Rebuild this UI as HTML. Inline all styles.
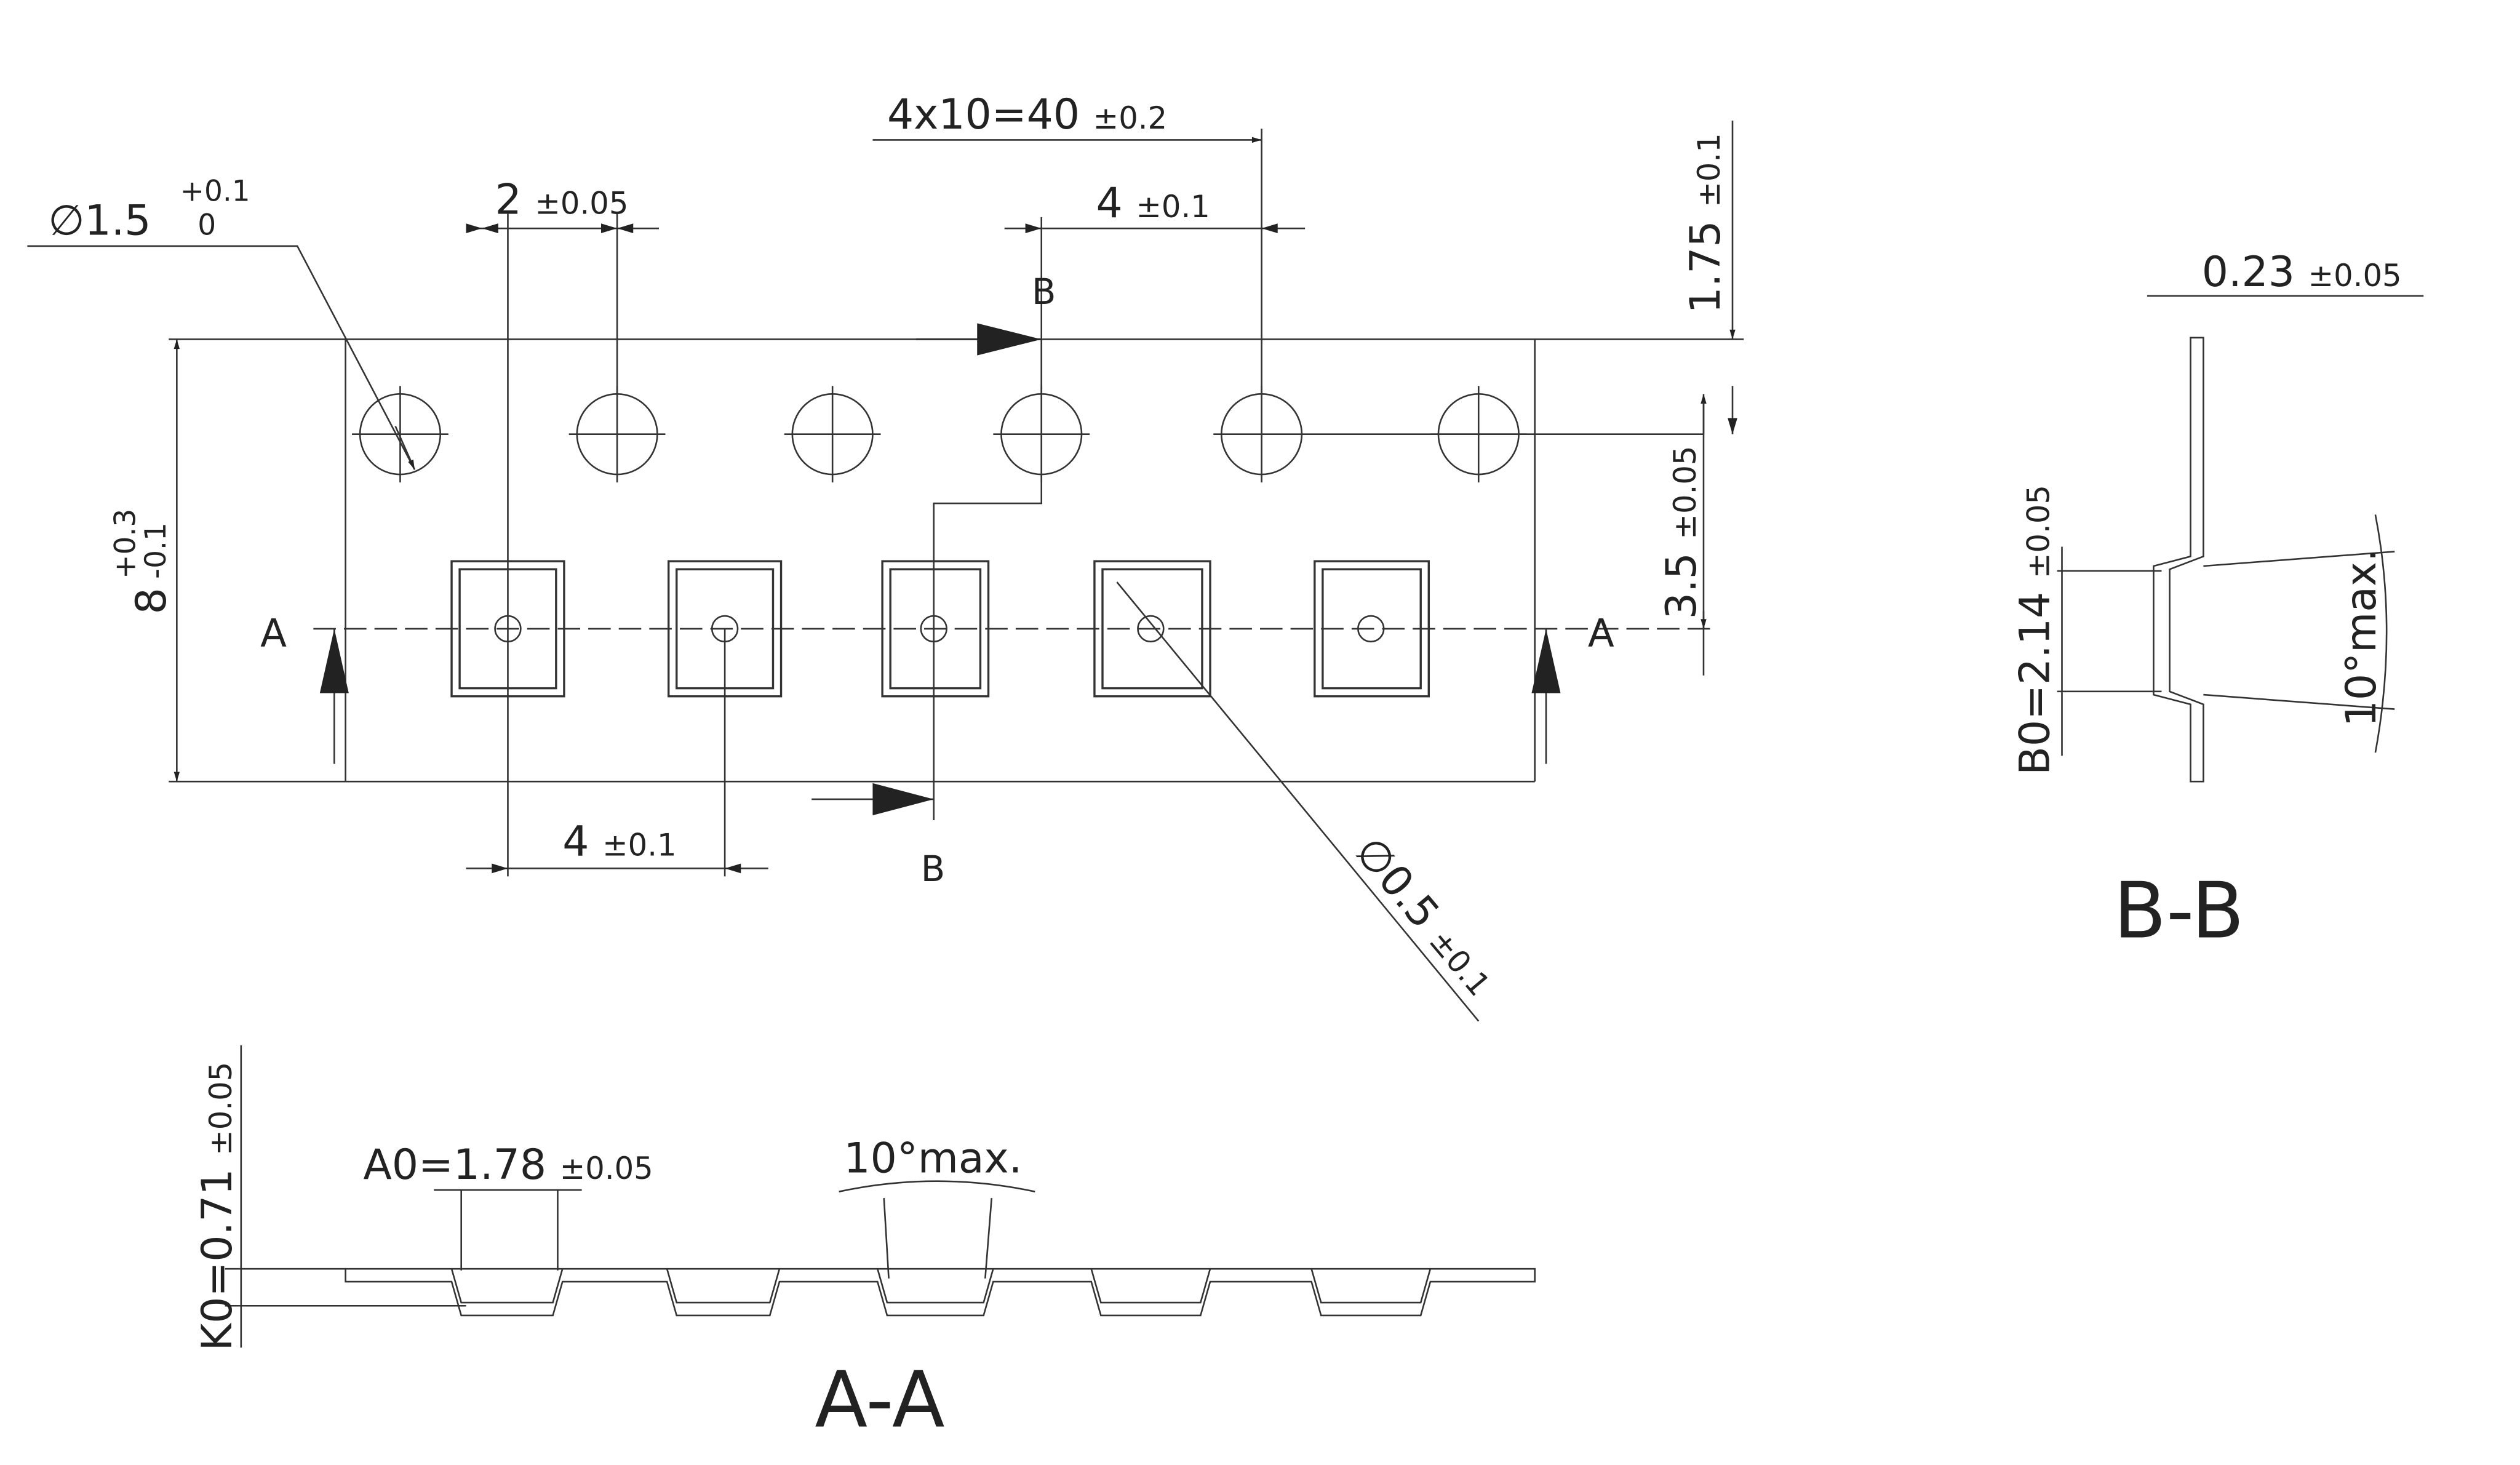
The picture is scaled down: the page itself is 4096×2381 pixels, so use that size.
<!DOCTYPE html>
<html><head><meta charset="utf-8"><style>html,body{margin:0;padding:0;background:#fff}svg{display:block}</style></head>
<body>
<svg width="4096" height="2381" viewBox="0 0 1568 911" preserveAspectRatio="none" xmlns="http://www.w3.org/2000/svg" font-family="'DejaVu Sans','Liberation Sans',sans-serif" fill="#222">
<defs>
<marker id="ar" viewBox="0 0 10 10" refX="10" refY="5" markerWidth="8" markerHeight="6" orient="auto-start-reverse" markerUnits="userSpaceOnUse"><path d="M0,2 L10,5 L0,8 z" fill="#222"/></marker>
</defs>
<g stroke="#333" stroke-width="1" fill="none">
<!-- strip -->
<line x1="105" y1="211" x2="1085" y2="211"/>
<line x1="105" y1="486" x2="955" y2="486"/>
<line x1="215" y1="211" x2="215" y2="486"/>
<line x1="955" y1="211" x2="955" y2="486"/>
<!-- sprocket holes -->
<g>
<circle cx="249" cy="270" r="25"/><circle cx="384" cy="270" r="25"/><circle cx="518" cy="270" r="25"/><circle cx="648" cy="270" r="25"/><circle cx="785" cy="270" r="25"/><circle cx="920" cy="270" r="25"/>
<path d="M219 270h60M249 240v60M354 270h60M384 240v60M488 270h60M518 240v60M618 270h60M648 240v60M755 270h60M785 240v60M890 270h60M920 240v60"/>
<line x1="815" y1="270" x2="1060" y2="270"/>
</g>
<!-- pockets -->
<g stroke-width="1.3">
<rect x="281" y="349" width="70" height="84"/><rect x="286" y="354" width="60" height="74"/>
<rect x="416" y="349" width="70" height="84"/><rect x="421" y="354" width="60" height="74"/>
<rect x="549" y="349" width="66" height="84"/><rect x="554" y="354" width="56" height="74"/>
<rect x="681" y="349" width="72" height="84"/><rect x="686" y="354" width="62" height="74"/>
<rect x="818" y="349" width="71" height="84"/><rect x="823" y="354" width="61" height="74"/>
</g>
<circle cx="316" cy="391" r="8"/><circle cx="451" cy="391" r="8"/><circle cx="581" cy="391" r="8"/><circle cx="716" cy="391" r="8"/><circle cx="853" cy="391" r="8"/>
<line x1="195" y1="391" x2="1065" y2="391" stroke-dasharray="14,5"/>
<!-- vertical extension lines -->
<line x1="316" y1="133" x2="316" y2="545"/>
<line x1="384" y1="133" x2="384" y2="245"/>
<line x1="451" y1="391" x2="451" y2="545"/>
<line x1="785" y1="80" x2="785" y2="245"/>
<line x1="648" y1="135" x2="648" y2="245"/>
<!-- B section line -->
<path d="M648 211 V313 H581 V510"/>
<line x1="570" y1="211" x2="648" y2="211" stroke-width="1.2"/>
<line x1="505" y1="497" x2="581" y2="497"/>
<!-- A arrows lines -->
<line x1="208" y1="391" x2="208" y2="475"/>
<line x1="962" y1="391" x2="962" y2="475"/>
<!-- dims -->
<line x1="290" y1="142" x2="410" y2="142"/>
<line x1="290" y1="540" x2="478" y2="540"/>
<line x1="625" y1="142" x2="812" y2="142"/>
<line x1="543" y1="87" x2="785" y2="87" marker-end="url(#ar)"/>
<line x1="110" y1="211" x2="110" y2="486" marker-start="url(#ar)" marker-end="url(#ar)"/>
<line x1="1078" y1="75" x2="1078" y2="211" marker-end="url(#ar)"/>
<line x1="1078" y1="270" x2="1078" y2="240"/>
<line x1="1060" y1="270" x2="1060" y2="245" marker-end="url(#ar)" transform="translate(0,0)"/>
<line x1="1060" y1="250" x2="1060" y2="420"/>
<line x1="1060" y1="380" x2="1060" y2="391" marker-end="url(#ar)"/>
<path d="M17 153 H185 L258 292" />
<line x1="246" y1="265" x2="258" y2="292" marker-end="url(#ar)"/>
<line x1="695" y1="362" x2="920" y2="635"/>
</g>
<g fill="#222">
<path d="M316 142l-10-3v6zM316 142l10-3v6z" transform="translate(-16,0)"/>
<path d="M300 142l10-3v6z"/>
<path d="M384 142l10-3v6zM384 142l-10-3v6z"/>
<path d="M316 540l-10-3v6zM451 540l10-3v6z"/>
<path d="M648 142l-10-3v6zM785 142l10-3v6z"/>
<path d="M648 211 l-40 -10 v20z"/>
<path d="M581 497 l-38 -10 v20z"/>
<path d="M208 391 l-9 40 h18z"/>
<path d="M962 391 l-9 40 h18z"/>
<path d="M1078 270 l-3 -10 h6z"/>
</g>
<g font-size="26">
<text x="30" y="146">∅1.5</text><text x="112" y="125" font-size="18">+0.1</text><text x="123" y="146" font-size="18">0</text>
<text x="308" y="133">2 <tspan font-size="19">±0.05</tspan></text>
<text x="552" y="80">4x10=40 <tspan font-size="19">±0.2</tspan></text>
<text x="682" y="135">4 <tspan font-size="19">±0.1</tspan></text>
<text x="350" y="532">4 <tspan font-size="19">±0.1</tspan></text>
<text x="642" y="189" font-size="22">B</text>
<text x="573" y="548" font-size="22">B</text>
<text x="162" y="402" font-size="24">A</text>
<text x="988" y="402" font-size="24">A</text>
<text transform="translate(1070,195) rotate(-90)">1.75 <tspan font-size="19">±0.1</tspan></text>
<text transform="translate(1055,385) rotate(-90)">3.5 <tspan font-size="19">±0.05</tspan></text>
<text transform="translate(103,382) rotate(-90)">8</text>
<text transform="translate(84,360) rotate(-90)" font-size="18">+0.3</text>
<text transform="translate(103,360) rotate(-90)" font-size="18">-0.1</text>
<text transform="translate(842,530) rotate(50)">∅0.5 <tspan font-size="19">±0.1</tspan></text>
</g>
<!-- A-A -->
<g stroke="#333" stroke-width="1" fill="none">
<path d="M215 789 H955 V797 H890 L884 818 H822 L816 797 H753 L747 818 H685 L679 797 H618 L612 818 H552 L546 797 H485 L479 818 H421 L415 797 H350 L344 818 H287 L281 797 H215 Z"/>
<path d="M281 789 L287 810 H344 L350 789 M415 789 L421 810 H479 L485 789 M546 789 L552 810 H612 L618 789 M679 789 L685 810 H747 L753 789 M816 789 L822 810 H884 L890 789"/>
<line x1="287" y1="740" x2="287" y2="790"/><line x1="347" y1="740" x2="347" y2="790"/>
<line x1="270" y1="740" x2="362" y2="740"/>
<line x1="550" y1="745" x2="553" y2="795"/><line x1="617" y1="745" x2="613" y2="795"/>
<path d="M522 741 Q583 728 644 741"/>
<line x1="150" y1="650" x2="150" y2="838"/>
<line x1="140" y1="789" x2="215" y2="789"/><line x1="140" y1="812" x2="290" y2="812"/>
</g>
<g font-size="26">
<text x="226" y="733">A0=1.78 <tspan font-size="19">±0.05</tspan></text>
<text x="525" y="729">10°max.</text>
<text transform="translate(144,840) rotate(-90)">K0=0.71 <tspan font-size="19">±0.05</tspan></text>
<text x="507" y="887" font-size="48">A-A</text>
</g>
<!-- B-B -->
<g stroke="#333" stroke-width="1" fill="none">
<path d="M1363 210 V346 L1340 352 V432 L1363 438 V486 H1371 V438 L1350 430 V354 L1371 346 V210 Z"/>
<line x1="1336" y1="184" x2="1508" y2="184"/>
<line x1="1280" y1="355" x2="1345" y2="355"/><line x1="1280" y1="430" x2="1345" y2="430"/>
<line x1="1283" y1="340" x2="1283" y2="470"/>
<line x1="1371" y1="352" x2="1490" y2="343"/><line x1="1371" y1="432" x2="1490" y2="441"/>
<path d="M1478 320 Q1492 392 1478 468"/>
</g>
<g font-size="26">
<text x="1370" y="178">0.23 <tspan font-size="19">±0.05</tspan></text>
<text transform="translate(1275,482) rotate(-90)">B0=2.14 <tspan font-size="19">±0.05</tspan></text>
<text transform="translate(1478,452) rotate(-90)">10°max.</text>
<text x="1315" y="583" font-size="48">B-B</text>
</g>
</svg>
</body></html>
